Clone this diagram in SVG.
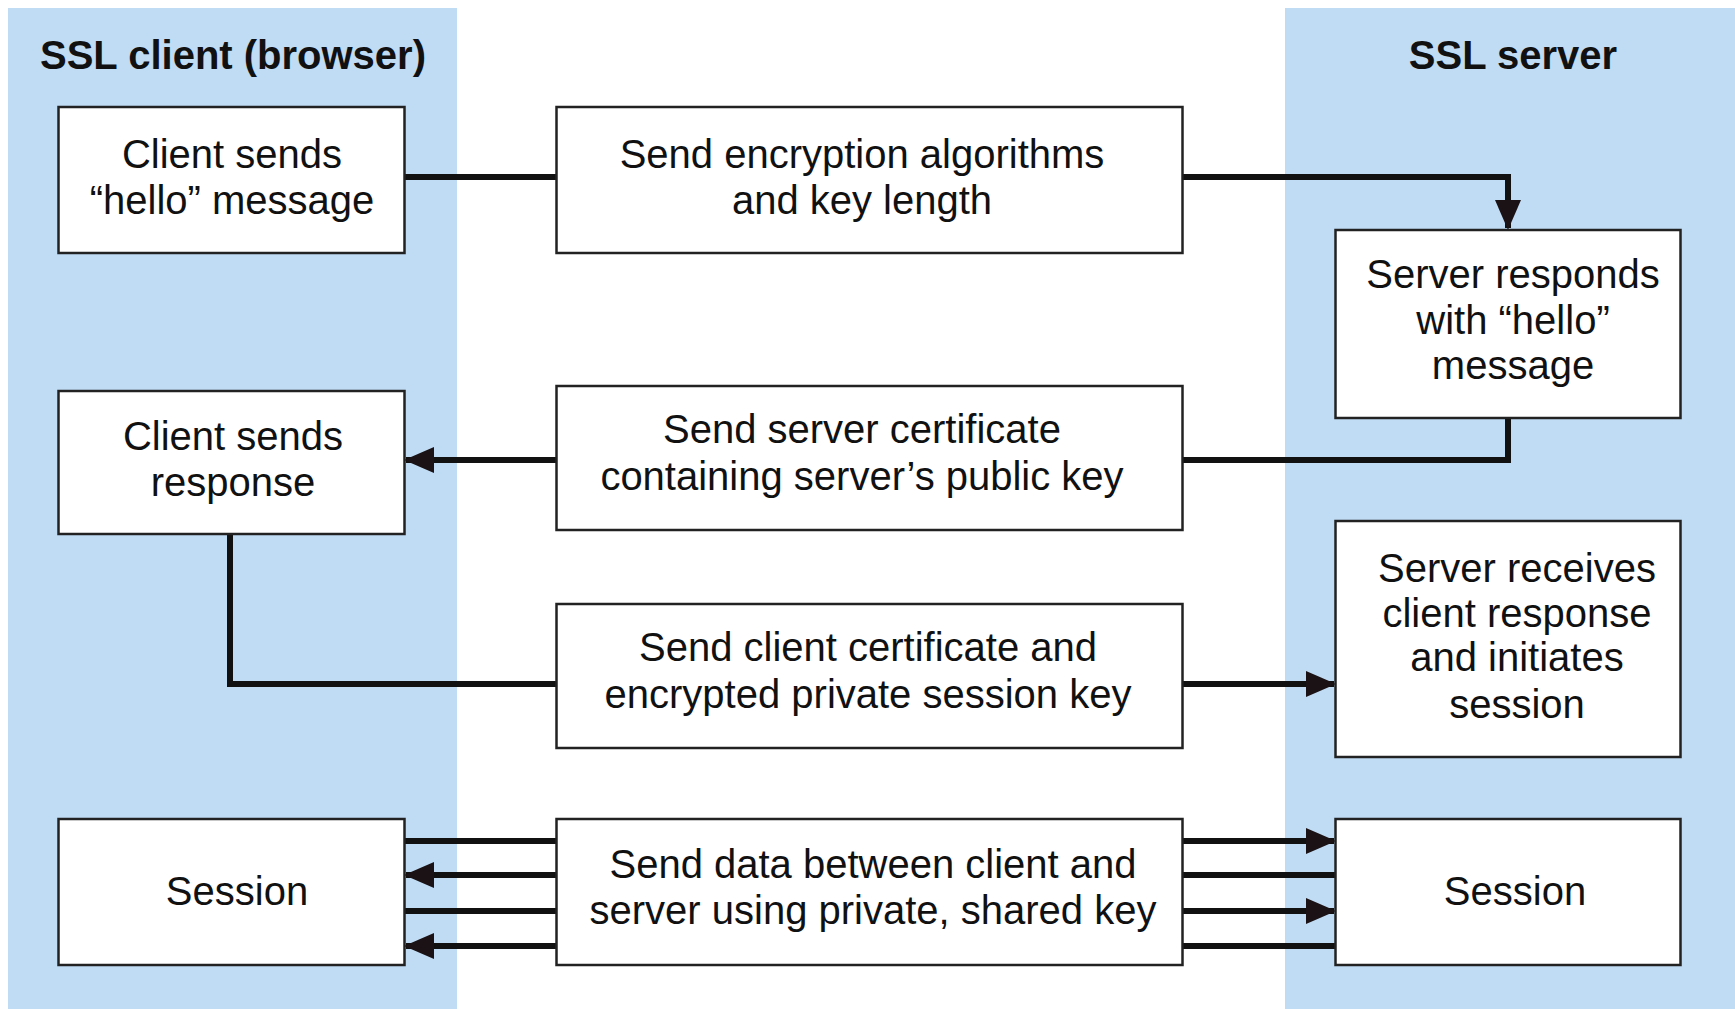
<svg xmlns="http://www.w3.org/2000/svg" width="1735" height="1009" viewBox="0 0 1735 1009">
<style>
.panel{fill:#c0dcf4}
.box{fill:#ffffff;stroke:#222222;stroke-width:2.5}
.t{font-family:"Liberation Sans",Arial,sans-serif;font-size:40px;fill:#111111;text-anchor:middle}
.title{font-family:"Liberation Sans",Arial,sans-serif;font-size:40px;font-weight:bold;fill:#111111;text-anchor:middle}
.c{fill:none;stroke:#111111;stroke-width:6;stroke-linejoin:miter}
.a{marker-end:url(#arr)}
</style>
<defs>
<marker id="arr" markerUnits="userSpaceOnUse" markerWidth="32" markerHeight="28" refX="28" refY="13" orient="auto">
<path d="M0,0 L30,13 L0,26 z" fill="#1a1214"/>
</marker>
</defs>
<rect width="1735" height="1009" fill="#ffffff"/>
<g id="client-lane">
<rect class="panel" x="8" y="8" width="449" height="1001"/>
<text class="title" x="233" y="69">SSL client (browser)</text>
</g>
<g id="server-lane">
<rect class="panel" x="1285" y="8" width="450" height="1001"/>
<text class="title" x="1513" y="69">SSL server</text>
</g>
<g id="connectors">
<path class="c" d="M404,177 H556"/>
<path class="c a" d="M1182,177 H1508 V228"/>
<path class="c" d="M1508,418 V460 H1182"/>
<path class="c a" d="M556,460 H406"/>
<path class="c" d="M230,534 V684 H556"/>
<path class="c a" d="M1182,684 H1334"/>
<path class="c" d="M404,841 H556"/>
<path class="c a" d="M556,875 H406"/>
<path class="c" d="M404,911 H556"/>
<path class="c a" d="M556,946 H406"/>
<path class="c a" d="M1182,841 H1334"/>
<path class="c" d="M1182,875 H1336"/>
<path class="c a" d="M1182,911 H1334"/>
<path class="c" d="M1182,946 H1336"/>
</g>
<g id="client-hello">
<rect class="box" x="58.5" y="107" width="346" height="146"/>
<text class="t" x="232" y="168">Client sends</text>
<text class="t" x="232" y="214">“hello” message</text>
</g>
<g id="send-algorithms">
<rect class="box" x="556.5" y="107" width="626" height="146"/>
<text class="t" x="862" y="168">Send encryption algorithms</text>
<text class="t" x="862" y="214">and key length</text>
</g>
<g id="server-hello">
<rect class="box" x="1335.5" y="230" width="345" height="188"/>
<text class="t" x="1513" y="288">Server responds</text>
<text class="t" x="1513" y="334">with “hello”</text>
<text class="t" x="1513" y="379">message</text>
</g>
<g id="client-response">
<rect class="box" x="58.5" y="391" width="346" height="143"/>
<text class="t" x="233" y="450">Client sends</text>
<text class="t" x="233" y="496">response</text>
</g>
<g id="send-server-cert">
<rect class="box" x="556.5" y="386" width="626" height="144"/>
<text class="t" x="862" y="443">Send server certificate</text>
<text class="t" x="862" y="490">containing server’s public key</text>
</g>
<g id="send-client-cert">
<rect class="box" x="556.5" y="604" width="626" height="144"/>
<text class="t" x="868" y="661">Send client certificate and</text>
<text class="t" x="868" y="708">encrypted private session key</text>
</g>
<g id="server-receives">
<rect class="box" x="1335.5" y="521" width="345" height="236"/>
<text class="t" x="1517" y="582">Server receives</text>
<text class="t" x="1517" y="627">client response</text>
<text class="t" x="1517" y="671">and initiates</text>
<text class="t" x="1517" y="718">session</text>
</g>
<g id="client-session">
<rect class="box" x="58.5" y="819" width="346" height="146"/>
<text class="t" x="237" y="905">Session</text>
</g>
<g id="send-data">
<rect class="box" x="556.5" y="819" width="626" height="146"/>
<text class="t" x="873" y="878">Send data between client and</text>
<text class="t" x="873" y="924">server using private, shared key</text>
</g>
<g id="server-session">
<rect class="box" x="1335.5" y="819" width="345" height="146"/>
<text class="t" x="1515" y="905">Session</text>
</g>
</svg>
